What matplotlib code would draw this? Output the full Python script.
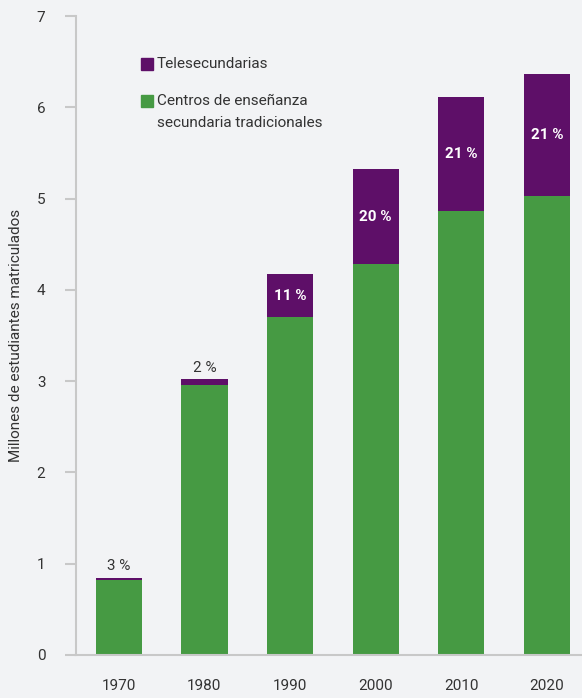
import matplotlib.pyplot as plt
from matplotlib.patches import Rectangle

years = ['1970', '1980', '1990', '2000', '2010', '2020']
tradicionales = [0.82, 2.96, 3.70, 4.28, 4.86, 5.03]
telesecundarias = [0.025, 0.06, 0.47, 1.04, 1.25, 1.34]
pct_labels = ['3 %', '2 %', '11 %', '20 %', '21 %', '21 %']

bg = '#f2f3f5'
green = '#469a43'
purple = '#5e0f68'
txt = '#333333'

plt.rcParams['font.family'] = ['Roboto', 'DejaVu Sans']

fig = plt.figure(figsize=(5.82, 6.98), dpi=100, facecolor=bg)
ax = fig.add_axes([76 / 582, 43 / 698, 506 / 582, 639 / 698])
ax.set_facecolor(bg)

x = range(len(years))
ax.bar(x, tradicionales, width=0.54, color=green, zorder=2)
ax.bar(x, telesecundarias, width=0.54, bottom=tradicionales, color=purple, zorder=2)

for i, lab in enumerate(pct_labels):
    top = tradicionales[i] + telesecundarias[i]
    if telesecundarias[i] < 0.2:
        ax.text(i, top + 0.05, lab, ha='center', va='bottom', fontsize=11, color=txt)
    else:
        ax.text(i, tradicionales[i] + telesecundarias[i] / 2, lab, ha='center', va='center',
                fontsize=11, color='white', fontweight='bold')

ax.set_xlim(-0.5, 5.41)
ax.set_ylim(0, 7)
ax.set_xticks(list(x))
ax.set_xticklabels(years)
ax.set_yticks(range(8))
ax.tick_params(axis='x', length=0, pad=17, labelsize=11, colors=txt)
ax.tick_params(axis='y', length=8, width=1.5, color='#c8c8c8', pad=14, labelsize=11, labelcolor=txt)
for s in ['top', 'right']:
    ax.spines[s].set_visible(False)
for s in ['left', 'bottom']:
    ax.spines[s].set_color('#c8c8c8')
    ax.spines[s].set_linewidth(1.5)
ax.set_ylabel('Millones de estudiantes matriculados', fontsize=11, color=txt, labelpad=10)

# legend drawn by hand so the swatch lines up with the first text line
legend_items = [(purple, 'Telesecundarias', 0.934),
                (green, 'Centros de enseñanza\nsecundaria tradicionales', 0.876)]
for col, lab, ytop in legend_items:
    ax.add_patch(Rectangle((0.128, ytop - 0.018), 0.024, 0.018, transform=ax.transAxes,
                           color=col, clip_on=False))
    ax.text(0.160, ytop + 0.002, lab, transform=ax.transAxes, ha='left', va='top',
            fontsize=11, color=txt, linespacing=1.75)

fig.savefig('out.png', dpi=100, facecolor=bg)
